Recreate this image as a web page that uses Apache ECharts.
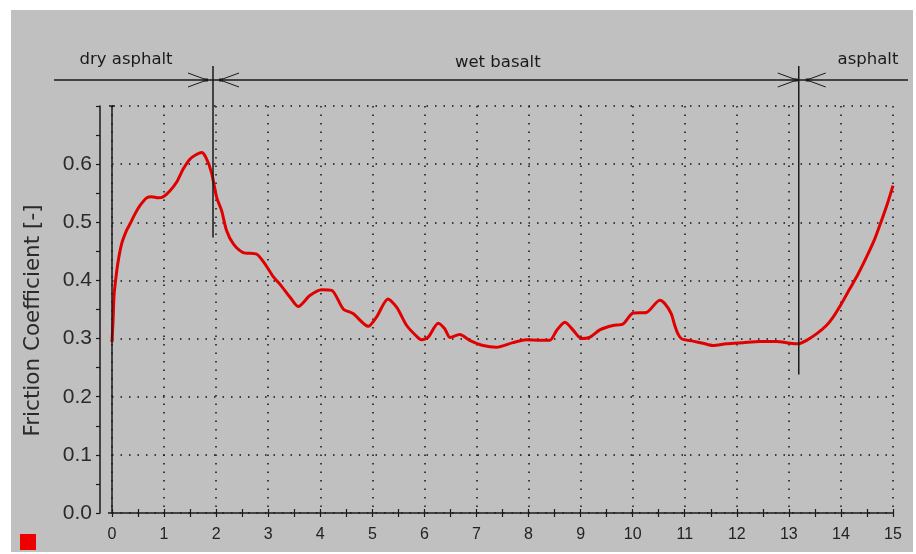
<!DOCTYPE html>
<html>
<head>
<meta charset="utf-8">
<script src="https://cdn.jsdelivr.net/npm/echarts@6/dist/echarts.min.js"></script>
<style>
html,body{margin:0;padding:0;background:#fff;}
#c{width:916px;height:554px;}
</style>
</head>
<body>
<div id="c"></div>
<script>
// ---- data ----
const distance = [0.0, 0.02, 0.04, 0.077, 0.12, 0.185, 0.28, 0.345, 0.44, 0.54, 0.666, 0.76, 0.89, 0.985, 1.11, 1.24, 1.37, 1.5, 1.63, 1.72, 1.80, 1.91, 2.01, 2.105, 2.2, 2.33, 2.52, 2.78, 2.94, 3.10, 3.22, 3.42, 3.576, 3.80, 4.025, 4.22, 4.44, 4.63, 4.92, 5.08, 5.30, 5.466, 5.66, 5.85, 5.945, 6.07, 6.265, 6.39, 6.49, 6.68, 6.87, 7.13, 7.385, 7.70, 7.96, 8.22, 8.41, 8.54, 8.70, 8.86, 9.015, 9.17, 9.37, 9.62, 9.815, 10.01, 10.265, 10.52, 10.62, 10.74, 10.80, 10.87, 10.94, 11.16, 11.35, 11.54, 11.80, 12.12, 12.44, 12.76, 13.02, 13.18, 13.34, 13.53, 13.72, 13.85, 14.01, 14.17, 14.33, 14.49, 14.65, 14.78, 14.90, 15.0];
const friction = [0.294, 0.33, 0.375, 0.406, 0.434, 0.463, 0.486, 0.497, 0.514, 0.529, 0.542, 0.544, 0.542, 0.544, 0.554, 0.569, 0.592, 0.609, 0.617, 0.620, 0.612, 0.586, 0.543, 0.520, 0.486, 0.463, 0.448, 0.445, 0.428, 0.406, 0.394, 0.371, 0.355, 0.374, 0.384, 0.383, 0.351, 0.343, 0.321, 0.337, 0.368, 0.354, 0.3225, 0.304, 0.298, 0.302, 0.3265, 0.317, 0.302, 0.307, 0.297, 0.288, 0.285, 0.293, 0.298, 0.297, 0.297, 0.314, 0.328, 0.314, 0.300, 0.302, 0.315, 0.3225, 0.325, 0.344, 0.345, 0.366, 0.36, 0.343, 0.325, 0.308, 0.2997, 0.2956, 0.292, 0.288, 0.291, 0.293, 0.295, 0.295, 0.292, 0.291, 0.297, 0.308, 0.3225, 0.337, 0.360, 0.3855, 0.411, 0.44, 0.4715, 0.503, 0.534, 0.563];
const yAxisTitle = 'Friction Coefficient [-]';
const seriesName = 'Friction Coefficient';
const surfaceNames = ['dry asphalt', 'wet basalt', 'asphalt'];
const surfaceLabelAt = [0.27, 7.41, 14.52];   // label centres along distance axis
const transitions = [1.94, 13.19];            // surface change positions
const transitionLineEnds = [0.474, 0.238];    // lower end of marker lines (friction units)

// ---- chart ----
const chart = echarts.init(document.getElementById('c'), null, {renderer: 'canvas'});
const dotted = {type: [1.5, 7], color: '#111', width: 1.5};
const ink = '#1a1a1a';

const option = {
  animation: false,
  backgroundColor: '#c0c0c0',
  grid: {left: 112, right: 23, top: 106, bottom: 41, containLabel: false},
  legend: {
    left: 20, top: 534, padding: 0, itemWidth: 16, itemHeight: 16, icon: 'rect',
    data: [seriesName], formatter: () => '', selectedMode: false,
    textStyle: {fontSize: 1}
  },
  xAxis: [
    {
      type: 'value', position: 'bottom', min: 0, max: 15, interval: 1,
      axisLine: {show: false, onZero: false}, axisTick: {show: false},
      axisLabel: {fontFamily: 'Liberation Sans', fontSize: 16, color: '#222', margin: 14},
      splitLine: {show: true, lineStyle: dotted}
    },
    {
      type: 'value', position: 'bottom', min: 0, max: 15, interval: 0.5,
      axisLine: {show: true, onZero: false, lineStyle: {color: ink, width: 1.5}},
      axisTick: {show: true, length: 4, lineStyle: {color: ink, width: 1.2}},
      axisLabel: {show: false}, splitLine: {show: false}
    },
    {
      type: 'value', position: 'bottom', min: 0, max: 15, interval: 0.5,
      axisLine: {show: false, onZero: false},
      axisTick: {show: true, inside: true, length: 4, lineStyle: {color: ink, width: 1.2}},
      axisLabel: {show: false}, splitLine: {show: false}
    }
  ],
  yAxis: [{
    type: 'value', min: 0, max: 0.7, interval: 0.1, offset: 12,
    name: yAxisTitle, nameLocation: 'middle', nameGap: 56, nameRotate: 90,
    nameTextStyle: {fontFamily: 'DejaVu Sans', fontSize: 21.5, color: '#2a2a2a', padding: [0, 22, 0, 0]},
    axisLine: {show: true, onZero: false, lineStyle: {color: ink, width: 1.5}},
    axisTick: {show: true, length: 4, lineStyle: {color: ink, width: 1.2}},
    minorTick: {show: true, splitNumber: 2, length: 4, lineStyle: {color: ink, width: 1.2}},
    axisLabel: {
      fontFamily: 'Liberation Sans', fontSize: 21, color: '#2a2a2a', margin: 8,
      showMaxLabel: false, formatter: v => v.toFixed(1)
    },
    splitLine: {show: true, lineStyle: dotted}
  }],
  series: [{
    name: seriesName, type: 'line', xAxisIndex: 0, yAxisIndex: 0,
    data: distance.map((d, i) => [d, friction[i]]),
    showSymbol: false, smooth: 0.25, z: 10,
    lineStyle: {color: '#e00000', width: 3},
    itemStyle: {color: '#ee0000'}
  }]
};
chart.setOption(option);

// ---- annotations (positions derived from axes) ----
const px = v => chart.convertToPixel({xAxisIndex: 0}, v);
const py = v => chart.convertToPixel({yAxisIndex: 0}, v);
const gridTop = py(0.7), gridBottom = py(0);
const dimY = gridTop - 26;      // dimension line height
const markTop = gridTop - 40;   // top of transition markers
const els = [];
// white page margins
els.push({type: 'rect', shape: {x: 0, y: 0, width: 11, height: 554}, style: {fill: '#fff'}, silent: true});
els.push({type: 'rect', shape: {x: 0, y: 0, width: 916, height: 10}, style: {fill: '#fff'}, silent: true});
els.push({type: 'rect', shape: {x: 0, y: 552, width: 916, height: 2}, style: {fill: '#fff'}, silent: true});
els.push({type: 'rect', shape: {x: 913, y: 0, width: 3, height: 554}, style: {fill: '#fff'}, silent: true});
// start line at distance 0
const x0 = px(0);
els.push({type: 'line', shape: {x1: x0, y1: gridTop, x2: x0, y2: gridBottom}, style: {stroke: ink, lineWidth: 1.5}, z: 20});
els.push({type: 'line', shape: {x1: x0 - 3, y1: gridTop, x2: x0 + 3, y2: gridTop}, style: {stroke: ink, lineWidth: 1.5}, z: 20});
// short extension of the distance axis toward the friction axis
els.push({type: 'line', shape: {x1: x0 - 4, y1: gridBottom, x2: x0, y2: gridBottom}, style: {stroke: ink, lineWidth: 1.5}, z: 20});
// dimension line
els.push({type: 'line', shape: {x1: x0 - 58, y1: dimY, x2: px(15) + 15, y2: dimY}, style: {stroke: ink, lineWidth: 1.3}, z: 20});
const tipGaps = [[-6, 7], [-2, 8]];
transitions.forEach((t, i) => {
  const X = px(t);
  els.push({type: 'line', shape: {x1: X, y1: markTop, x2: X, y2: py(transitionLineEnds[i])}, style: {stroke: ink, lineWidth: 1.5}, z: 20});
  const lt = X + tipGaps[i][0], rt = X + tipGaps[i][1];
  els.push({type: 'polyline', shape: {points: [[lt - 19, dimY - 7], [lt, dimY], [lt - 19, dimY + 7]]}, style: {stroke: ink, lineWidth: 1, fill: null}, z: 20});
  els.push({type: 'polyline', shape: {points: [[rt + 19, dimY - 7], [rt, dimY], [rt + 19, dimY + 7]]}, style: {stroke: ink, lineWidth: 1, fill: null}, z: 20});
  els.push({type: 'rect', shape: {x: lt - 3, y: dimY - 1.5, width: 4, height: 3}, style: {fill: ink}, z: 20});
  els.push({type: 'rect', shape: {x: rt - 1, y: dimY - 1.5, width: 4, height: 3}, style: {fill: ink}, z: 20});
});
surfaceNames.forEach((n, i) => {
  els.push({
    type: 'text', x: px(surfaceLabelAt[i]), y: dimY - (i === 1 ? 17 : 20), z: 20,
    style: {text: n, font: '16.5px "DejaVu Sans"', fill: ink, align: 'center', verticalAlign: 'middle', textAlign: 'center', textVerticalAlign: 'middle'}
  });
});
chart.setOption({graphic: {elements: els}});
</script>
</body>
</html>
